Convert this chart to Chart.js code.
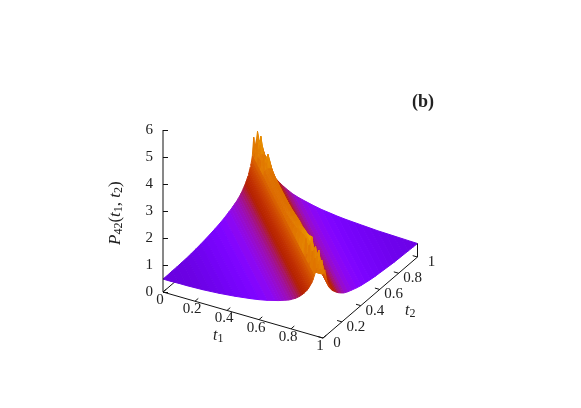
<!DOCTYPE html>
<html>
<head>
<meta charset="utf-8">
<title>P42</title>
<script src="https://cdn.jsdelivr.net/npm/chart.js@4.4.1/dist/chart.umd.min.js"></script>
<style>
  html, body { margin: 0; padding: 0; background: #fff; }
  canvas { display: block; }
</style>
</head>
<body>
<canvas id="surface" width="581" height="408"></canvas>
<script>
// Values
const tTicks = [0, 0.2, 0.4, 0.6, 0.8, 1];
const zTicks = [0, 1, 2, 3, 4, 5, 6];

// Surface height on the lines t1 + t2 - 1 = offset, far side first
const offsets = [1, .95, .9, .85, .8, .75, .7, .65, .6, .55, .5, .45, .4, .35, .3, .26, .22, .19, .16, .14, .12, .1, .085, .07, .055, .04, .03, .02, .01, 0,
  -.01, -.02, -.03, -.04, -.055, -.0625, -.07, -.0775, -.085, -.0925, -.1, -.11, -.12, -.13, -.14, -.15, -.16, -.175, -.19, -.205, -.22, -.24, -.26, -.28, -.3, -.35, -.4, -.45, -.5, -.55, -.6, -.65, -.7, -.75, -.8, -.85, -.9, -.95, -1];
const heights = [.50, .51, .52, .53, .54, .55, .57, .59, .61, .63, .66, .70, .74, .80, .87, .93, 1.01, 1.10, 1.2, 1.28, 1.37, 1.46, 1.55, 1.65, 1.78, 2.0, 2.2, 2.45, 2.65, 3,
  2.7, 2.55, 2.45, 2.85, 2.2, 2.05, 1.93, 1.84, 1.75, 1.67, 1.6, 1.52, 1.45, 1.39, 1.33, 1.28, 1.23, 1.17, 1.12, 1.07, 1.03, .99, .95, .91, .88, .8, .74, .69, .65, .61, .58, .55, .53, .51, .50, .49, .49, .48, .48];

// Jagged crest along the ridge
const crestAt = [0, .015, .035, .05, .065, .1, .13, .16, .175, .2, .25, .3, .35, .4, .45, .5, .55, .6, .65, .7, .75, .8, .83, .845, .87, .885, .9, .92, .935, .95, .97, .985, 1];
const crestTop = [2.95, 2.3, 2.4, 3.0, 2.4, 2.45, 2.5, 2.85, 2.4, 2.35, 2.32, 2.3, 2.3, 2.3, 2.32, 2.35, 2.4, 2.45, 2.5, 2.6, 2.7, 2.84, 2.95, 2.35, 2.4, 2.85, 2.3, 2.3, 2.95, 2.3, 2.75, 2.3, 2.5];

// Palette position seen at each height
const colorHeights = [.48, .7, 1.0, 1.3, 1.7, 2.2, 2.9];
const colorPositions = [.17, .24, .36, .47, .6, .74, .87];

// View of the box, in pixels per unit
const originX = 163, t1X = 160, t2X = 94.5;
const t1Rise = -46 / 27, t2Rise = 3;

function project(t1, t2, z) {
    return { x: originX + t1X * t1 + t2X * t2, y: z + t1Rise * t1 + t2Rise * t2 };
}

function palettePosition(z) {
    const last = colorHeights.length - 1;
    if (z <= colorHeights[0]) return colorPositions[0];
    if (z >= colorHeights[last]) return colorPositions[last];
    let i = 0;
    while (z > colorHeights[i + 1]) i++;
    const f = (z - colorHeights[i]) / (colorHeights[i + 1] - colorHeights[i]);
    return colorPositions[i] + f * (colorPositions[i + 1] - colorPositions[i]);
}

// gnuplot palette rgbformulae 7,5,15
function paletteColor(z) {
    const v = palettePosition(z);
    const r = Math.sqrt(v);
    const g = v * v * v;
    const b = Math.max(0, Math.sin(2 * Math.PI * v));
    return `rgb(${Math.round(r * 255)},${Math.round(g * 255)},${Math.round(b * 255)})`;
}

function rowPoint(row, col) {
    const d = offsets[row];
    const lo = Math.max(0, d);
    const hi = Math.min(1, 1 + d);
    const t1 = lo + crestAt[col] * (hi - lo);
    const t2 = 1 + d - t1;
    return { t1, t2, z: Math.min(heights[row], crestTop[col]) };
}

function lineSet(from, to) {
    return {
        data: [project(...from), project(...to)],
        showLine: true, pointRadius: 0, borderColor: '#111', borderWidth: 1, fill: false, clip: false
    };
}

function cellSet(row, colA, colB) {
    const corners = [rowPoint(row, colA), rowPoint(row, colB), rowPoint(row + 1, colB), rowPoint(row + 1, colA)];
    const meanZ = corners.reduce((sum, p) => sum + p.z, 0) / 4;
    const color = paletteColor(meanZ);
    const points = corners.map(p => project(p.t1, p.t2, p.z));
    points.push(points[0]);
    return {
        data: points, showLine: true, pointRadius: 0, tension: 0,
        backgroundColor: color, borderColor: color, borderWidth: 1, fill: 'shape', clip: false
    };
}

const layers = [];

// floor edges and ticks go under the surface
layers.push(lineSet([0, 0, 0], [1, 0, 0]));
layers.push(lineSet([1, 0, 0], [1, 1, 0]));
layers.push(lineSet([0, 0, 0], [0, 1, 0]));
tTicks.forEach(t => {
    layers.push(lineSet([t, 0, 0], [t, 0.035, 0]));
    layers.push(lineSet([1, t, 0], [0.97, t, 0]));
});

// surface strips, back to front; only rows touching the crest need cutting up
const lowestCrest = Math.min(...crestTop);
const lastCol = crestAt.length - 1;
for (let row = 0; row < offsets.length - 1; row++) {
    if (Math.max(heights[row], heights[row + 1]) <= lowestCrest) {
        layers.push(cellSet(row, 0, lastCol));
        continue;
    }
    for (let col = 0; col < lastCol; col++) {
        layers.push(cellSet(row, col, col + 1));
    }
}

layers.push(lineSet([0, 0, 0], [0, 0, 6]));
layers.push(lineSet([1, 1, 0], [1, 1, 0.5]));

function mathLabel(ctx, x, y, parts, size) {
    // parts: [text, style] where style is 'r', 'i' or 'sub'
    let pen = x;
    parts.forEach(([text, style]) => {
        ctx.font = style === 'i' ? `italic ${size}px "Liberation Serif"`
            : style === 'sub' ? `${Math.round(size * 0.72)}px "Liberation Serif"`
            : `${size}px "Liberation Serif"`;
        ctx.fillText(text, pen, style === 'sub' ? y + 3 : y);
        pen += ctx.measureText(text).width;
    });
}

const labelPlugin = {
    id: 'labels3d',
    afterDraw(chart) {
        const { ctx } = chart;
        const sx = chart.scales.x;
        const sy = chart.scales.y;
        ctx.save();
        ctx.fillStyle = '#222';
        ctx.font = '15px "Liberation Serif"';
        ctx.textAlign = 'center';
        ctx.textBaseline = 'middle';
        tTicks.forEach(t => {
            const a = project(t, 0, 0);
            ctx.fillText(String(t), sx.getPixelForValue(a.x) - 3, sy.getPixelForValue(a.y) + 8);
            const b = project(1, t, 0);
            ctx.fillText(String(t), sx.getPixelForValue(b.x) + 14, sy.getPixelForValue(b.y) + 5);
        });
        ctx.textAlign = 'left';
        mathLabel(ctx, 213, 336, [['t', 'i'], ['1', 'sub']], 16);
        mathLabel(ctx, 405, 311, [['t', 'i'], ['2', 'sub']], 16);
        ctx.font = 'bold 18px "Liberation Serif"';
        ctx.textAlign = 'center';
        ctx.fillText('(b)', 423, 102);
        ctx.translate(116, 211);
        ctx.rotate(-Math.PI / 2);
        ctx.textAlign = 'left';
        mathLabel(ctx, -34, 0, [['P', 'i'], ['42', 'sub'], ['(', 'r'], ['t', 'i'], ['1', 'sub'], [', ', 'r'], ['t', 'i'], ['2', 'sub'], [')', 'r']], 17);
        ctx.restore();
    }
};

new Chart(document.getElementById('surface'), {
    type: 'scatter',
    data: { datasets: layers.slice().reverse() },
    options: {
        responsive: false,
        animation: false,
        parsing: false,
        normalized: true,
        layout: { padding: { left: 113, right: 162, top: 130, bottom: 66 } },
        plugins: { legend: { display: false }, tooltip: { enabled: false } },
        events: [],
        scales: {
            x: { type: 'linear', display: false, min: 163, max: 419 },
            y: {
                type: 'linear',
                min: -1.85,
                max: 6,
                afterFit: scale => { scale.width = 50; },
                afterBuildTicks: scale => { scale.ticks = zTicks.map(v => ({ value: v })); },
                border: { display: false },
                grid: { drawOnChartArea: false, tickLength: -5, color: '#111' },
                ticks: {
                    padding: 15,
                    color: '#222',
                    autoSkip: false,
                    font: { family: 'Liberation Serif', size: 15 }
                }
            }
        }
    },
    plugins: [labelPlugin]
});
</script>
</body>
</html>
